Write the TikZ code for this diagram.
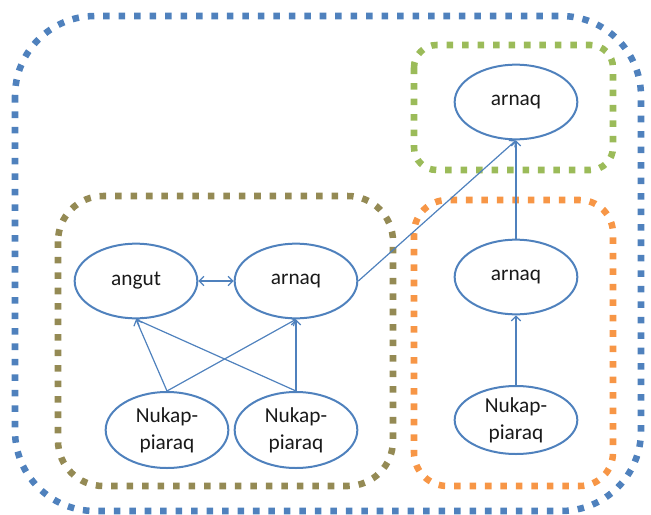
\documentclass[tikz,border=0pt]{standalone}
\usepackage{fontspec}
\setmainfont{Carlito}
\usetikzlibrary{shapes.geometric,arrows.meta}
\definecolor{eblue}{HTML}{4F81BD}
\definecolor{gblue}{HTML}{4F81BD}
\definecolor{golive}{HTML}{948A54}
\definecolor{gorange}{HTML}{F79646}
\definecolor{ggreen}{HTML}{9BBB59}
\begin{document}
\begin{tikzpicture}[x=0.75pt,y=-0.75pt,
  grp/.style={line width=4.9pt, dash pattern=on 4.9pt off 6.7pt},
  ell/.style={ellipse, draw=eblue, line width=1.5pt, minimum width=92pt,
    minimum height=56pt, inner sep=0pt, text=black!90,
    font=\fontsize{16}{20}\selectfont, align=center},
  con/.style={draw=eblue, line width=0.9pt, -{Straight Barb[length=3.5pt,width=7pt]}}]
\useasboundingbox (0,0) rectangle (651,515);
% group boxes
\draw[grp, gblue, rounded corners=60pt] (15,16) rectangle (641,511);
\draw[grp, golive, rounded corners=34pt] (58,196) rectangle (393,486);
\draw[grp, gorange, rounded corners=25pt] (414,200) rectangle (613,486);
\draw[grp, ggreen, rounded corners=17pt] (414,45) rectangle (613,170);
% nodes
\node[ell] (angut) at (136,281) {angut};
\node[ell] (arnaqM) at (296,281) {arnaq};
\node[ell, minimum height=57pt] (nukL) at (167,430) {Nukap-\\piaraq};
\node[ell, minimum height=57pt] (nukM) at (296,430) {Nukap-\\piaraq};
\node[ell] (arnaqT) at (516,102) {arnaq};
\node[ell] (arnaqR) at (516,277) {arnaq};
\node[ell, minimum height=51pt] (nukR) at (516,420) {Nukap-\\piaraq};
% connectors
\draw[con, {Straight Barb[length=3.5pt,width=7pt]}-{Straight Barb[length=3.5pt,width=7pt]}] (angut.east) -- (arnaqM.west);
\draw[con] (arnaqM.east) -- (arnaqT.south);
\draw[con] (arnaqR.north) -- (arnaqT.south);
\draw[con] (nukR.north) -- (arnaqR.south);
\draw[con] (nukL.north) -- (angut.south);
\draw[con] (nukL.north) -- (arnaqM.south);
\draw[con] (nukM.north) -- (arnaqM.south);
\draw[con] (nukM.north) -- (angut.south);
\end{tikzpicture}
\end{document}
